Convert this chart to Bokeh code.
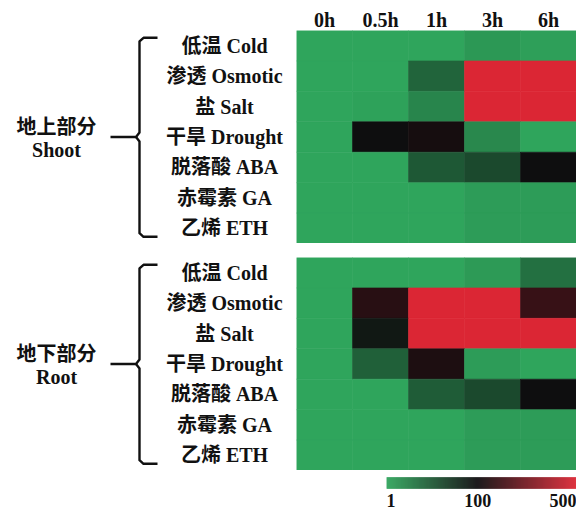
import math
from bokeh.plotting import figure
from bokeh.layouts import column, row
from bokeh.models import FactorRange, Range1d, ColumnDataSource, Spacer
from bokeh.core.properties import value
from bokeh.embed import file_html
from bokeh.resources import INLINE

# ---------------- data ----------------
times = ["0h", "0.5h", "1h", "3h", "6h"]
conditions = ["低温 Cold", "渗透 Osmotic", "盐 Salt", "干旱 Drought",
              "脱落酸 ABA", "赤霉素 GA", "乙烯 ETH"]

shoot_cold     = [1, 1, 1, 1.5, 1.2]
shoot_osmotic  = [1, 1, 7, 500, 500]
shoot_salt     = [1, 1.1, 2.6, 500, 500]
shoot_drought  = [1, 95, 115, 2.4, 1]
shoot_aba      = [1, 1, 10, 16, 95]
shoot_ga       = [1, 1, 1, 1.3, 1.3]
shoot_eth      = [1, 1, 1, 1.3, 1.3]

root_cold      = [1, 1, 1, 1.4, 5]
root_osmotic   = [1, 150, 500, 500, 180]
root_salt      = [1, 70, 500, 500, 500]
root_drought   = [1, 8, 130, 1.3, 1]
root_aba       = [1, 1, 9, 16, 95]
root_ga        = [1, 1, 1, 1.3, 1.3]
root_eth       = [1, 1, 1, 1.3, 1.3]

shoot_rows = [shoot_cold, shoot_osmotic, shoot_salt, shoot_drought, shoot_aba, shoot_ga, shoot_eth]
root_rows = [root_cold, root_osmotic, root_salt, root_drought, root_aba, root_ga, root_eth]

groups = [("地上部分", "Shoot"), ("地下部分", "Root")]
scale_labels = ["1", "100", "500"]
scale_values = [1, 100, 500]

# ---------------- colour scale ----------------
GREEN = (47, 165, 92)
BLACK = (14, 12, 14)
RED = (219, 38, 52)
TB = 0.48  # position of the black stop on the colour bar


def to_t(v):
    if v <= 100:
        return TB * math.log10(v) / 2.0
    return TB + (1 - TB) * (v - 100) / 400.0


def t_color(t):
    if t <= TB:
        f = t / TB
        a, b = GREEN, BLACK
    else:
        f = (t - TB) / (1 - TB)
        a, b = BLACK, RED
    c = [round(a[i] + (b[i] - a[i]) * f) for i in range(3)]
    return "#%02x%02x%02x" % tuple(c)


FONT = value("'Liberation Serif', 'Noto Sans CJK SC', serif")
TXT = "#111111"
FS = "20px"


def bare(p):
    p.xgrid.visible = False
    p.ygrid.visible = False
    return p


def heat(rows_data):
    xs, ys, cs = [], [], []
    for cond, vals in zip(conditions, rows_data):
        for t, v in zip(times, vals):
            xs.append(t)
            ys.append(cond)
            cs.append(t_color(to_t(v)))
    src = ColumnDataSource(dict(x=xs, y=ys, c=cs))
    p = figure(width=280, height=213,
               x_range=FactorRange(*times, range_padding=0),
               y_range=FactorRange(*list(reversed(conditions)), range_padding=0),
               x_axis_location=None, y_axis_location=None,
               toolbar_location=None, output_backend="svg",
               min_border=0, outline_line_color=None)
    p.rect(x="x", y="y", width=1, height=1, source=src,
           fill_color="c", line_color="c", line_width=0.6)
    return bare(p)


def labels(heat_fig, grp):
    p = figure(width=296, height=213, x_range=Range1d(0, 296), y_range=heat_fig.y_range,
               x_axis_location=None, y_axis_location=None,
               toolbar_location=None, output_backend="svg",
               min_border=0, outline_line_color=None)
    p.text(x=[224] * len(conditions), y=conditions, text=conditions,
           text_align="center", text_baseline="middle",
           text_font=FONT, text_font_style="bold", text_font_size=FS, text_color=TXT)
    mid = conditions[3]
    p.text(x=[56], y=[mid], text=[grp[0]], y_offset=-10,
           text_align="center", text_baseline="middle",
           text_font=FONT, text_font_style="bold", text_font_size=FS, text_color=TXT)
    p.text(x=[56], y=[mid], text=[grp[1]], y_offset=13,
           text_align="center", text_baseline="middle",
           text_font=FONT, text_font_style="bold", text_font_size=FS, text_color=TXT)
    # brace
    top, m, bot = 6.76, 3.5, 0.22
    p.line(x=[157, 143, 139, 139, 135.5, 110], y=[top, top, top - 0.12, m + 0.15, m, m],
           line_color="#111111", line_width=2.4, line_join="round")
    p.line(x=[135.5, 139, 139, 143, 157], y=[m, m - 0.15, bot + 0.12, bot, bot],
           line_color="#111111", line_width=2.4, line_join="round")
    return bare(p)


hs = heat(shoot_rows)
hr = heat(root_rows)
ls = labels(hs, groups[0])
lr = labels(hr, groups[1])

header = figure(width=280, height=30, x_range=hs.x_range, y_range=Range1d(0, 30),
                x_axis_location=None, y_axis_location=None,
                toolbar_location=None, output_backend="svg",
                min_border=0, outline_line_color=None)
header.text(x=times, y=[11] * len(times), text=times, text_align="center",
            text_baseline="middle", text_font=FONT, text_font_style="bold",
            text_font_size=FS, text_color=TXT)
bare(header)

# colour bar
cb = figure(width=190, height=40, x_range=Range1d(0, 1), y_range=Range1d(0, 40),
            x_axis_location=None, y_axis_location=None,
            toolbar_location=None, output_backend="svg",
            min_border=0, outline_line_color=None)
N = 190
lefts = [i / N for i in range(N)]
rights = [(i + 1) / N for i in range(N)]
cols = [t_color((i + 0.5) / N) for i in range(N)]
cb.quad(left=lefts, right=rights, bottom=22, top=33, fill_color=cols, line_color=cols, line_width=0.5)
cb.text(x=[to_t(v) for v in scale_values], y=[10] * 3, text=scale_labels,
        text_align=["left", "center", "right"], text_baseline="middle",
        text_font=FONT, text_font_style="bold", text_font_size="18px", text_color=TXT)
bare(cb)

layout = column(
    row(Spacer(width=296, height=30), header),
    row(ls, hs),
    Spacer(width=576, height=14),
    row(lr, hr),
    row(Spacer(width=386, height=40), cb),
)

open("out.html", "w").write(file_html(layout, INLINE))
